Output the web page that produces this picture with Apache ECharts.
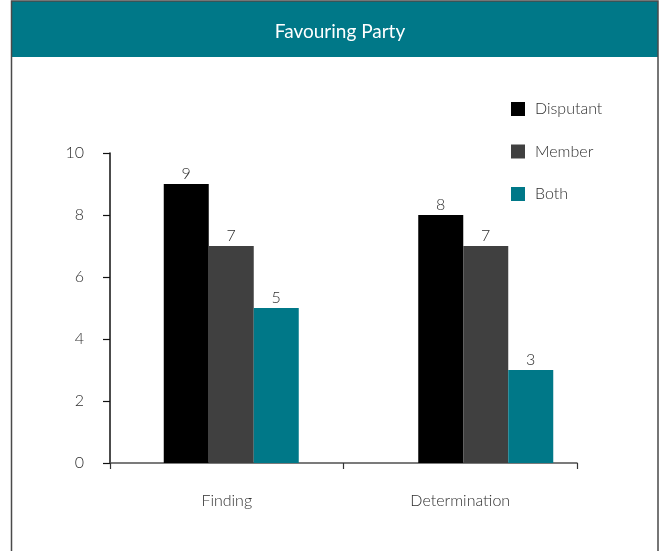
<!DOCTYPE html>
<html>
<head>
<meta charset="utf-8">
<script src="https://cdn.jsdelivr.net/npm/echarts@6/dist/echarts.min.js"></script>
<style>
  html, body { margin: 0; padding: 0; background: #ffffff; }
  #chart { width: 665px; height: 551px; }
</style>
</head>
<body>
<div id="chart"></div>
<script>
// Chart data
const categories = ['Finding', 'Determination'];
const seriesNames = ['Disputant', 'Member', 'Both'];
const disputant = [9, 8];
const member = [7, 7];
const both = [5, 3];
const yTicks = [0, 2, 4, 6, 8, 10];

const colors = ['#000000', '#404040', '#007888'];
const FONT = 'Lato, "Open Sans", sans-serif';
const TEXT = '#2e2e2e';

const chart = echarts.init(document.getElementById('chart'), null, { renderer: 'canvas' });

const makeBar = (name, data, color) => ({
  name: name,
  type: 'bar',
  xAxisIndex: 1,
  yAxisIndex: 1,
  data: data,
  barWidth: 45,
  barGap: '0%',
  itemStyle: { color: color },
  label: {
    show: true,
    position: 'top',
    distance: 2,
    fontFamily: FONT,
    fontSize: 16,
    fontWeight: 300,
    color: TEXT
  }
});

chart.setOption({
  animation: false,
  backgroundColor: '#ffffff',
  graphic: [
    {
      type: 'rect',
      shape: { x: 12, y: 1, width: 646, height: 56 },
      style: { fill: '#007888' },
      z: 0
    },
    {
      type: 'rect',
      shape: { x: 11.5, y: 1, width: 646.5, height: 580 },
      style: { fill: null, stroke: '#4a4a4a', lineWidth: 1.5 },
      z: 1
    }
  ],
  title: {
    text: 'Favouring Party',
    left: 335,
    top: 17,
    textAlign: 'center',
    textStyle: { fontFamily: FONT, fontSize: 19, fontWeight: 'normal', color: '#ffffff' }
  },
  legend: {
    orient: 'vertical',
    left: 506,
    top: 96,
    itemWidth: 14,
    itemHeight: 14,
    itemGap: 26.5,
    icon: 'rect',
    data: seriesNames,
    textStyle: { fontFamily: FONT, fontSize: 16, fontWeight: 300, color: TEXT, lineHeight: 16, padding: [0, 0, 0, 5] }
  },
  grid: [
    { left: 110, right: 88, top: 153, bottom: 88 },
    { left: 104, width: 509, top: 153, bottom: 88 }
  ],
  xAxis: [
    {
      type: 'category',
      gridIndex: 0,
      data: categories,
      axisLine: { show: true, lineStyle: { color: '#505050', width: 1.5 } },
      axisTick: { show: true, alignWithLabel: false, length: 6, lineStyle: { color: '#333333', width: 1.2 } },
      axisLabel: { margin: 30, fontFamily: FONT, fontSize: 16, fontWeight: 300, color: TEXT }
    },
    {
      type: 'category',
      gridIndex: 1,
      data: categories,
      show: false
    }
  ],
  yAxis: [
    {
      type: 'value',
      gridIndex: 0,
      min: yTicks[0],
      max: yTicks[yTicks.length - 1],
      interval: 2,
      axisLine: { show: true, lineStyle: { color: '#111111', width: 1.5 } },
      axisTick: { show: true, length: 7, lineStyle: { color: '#111111', width: 1.2 } },
      splitLine: { show: false },
      axisLabel: { margin: 26, fontFamily: FONT, fontSize: 16, fontWeight: 300, color: TEXT }
    },
    {
      type: 'value',
      gridIndex: 1,
      min: yTicks[0],
      max: yTicks[yTicks.length - 1],
      interval: 2,
      show: false,
      splitLine: { show: false }
    }
  ],
  series: [
    makeBar(seriesNames[0], disputant, colors[0]),
    makeBar(seriesNames[1], member, colors[1]),
    makeBar(seriesNames[2], both, colors[2])
  ]
});
</script>
</body>
</html>
